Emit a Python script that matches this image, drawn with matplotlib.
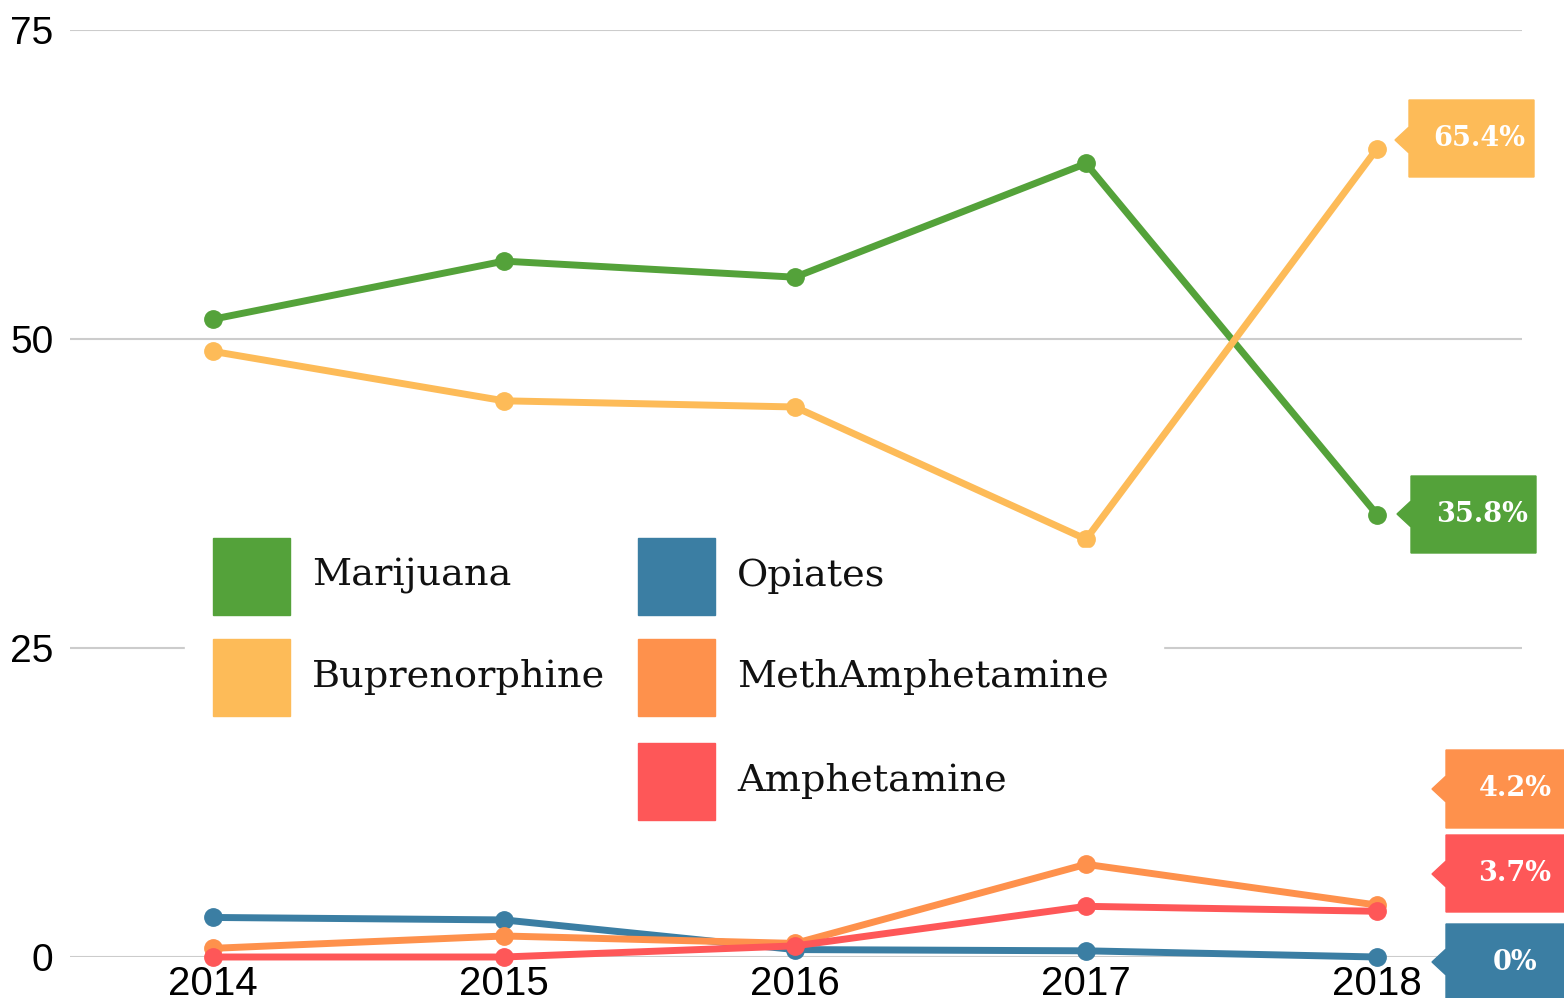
import matplotlib
matplotlib.use("Agg")
import matplotlib.pyplot as plt
from matplotlib.patches import Polygon, Rectangle
from matplotlib import font_manager

years = [2014, 2015, 2016, 2017, 2018]
series_names = ["Marijuana", "Buprenorphine", "Opiates", "MethAmphetamine", "Amphetamine"]
marijuana = [51.6, 56.3, 55.0, 64.2, 35.8]
buprenorphine = [49.0, 45.0, 44.5, 33.8, 65.4]
opiates = [3.2, 3.0, 0.6, 0.5, 0.0]
methamphetamine = [0.7, 1.7, 1.1, 7.5, 4.2]
amphetamine = [0.0, 0.0, 0.9, 4.1, 3.7]
end_labels = ["65.4%", "35.8%", "0%", "4.2%", "3.7%"]
y_ticks = [0, 25, 50, 75]

colors = ["#54a23a", "#fdbb58", "#3b7ea3", "#fe914c", "#fe5758"]
values = [marijuana, buprenorphine, opiates, methamphetamine, amphetamine]

avail = {f.name for f in font_manager.fontManager.ttflist}
tick_font = "Liberation Sans Narrow" if "Liberation Sans Narrow" in avail else "Liberation Sans"
serif_font = "DejaVu Serif"

W, H = 1564, 998
fig = plt.figure(figsize=(W / 100, H / 100), dpi=100)
ax = fig.add_axes([70 / W, (H - 957) / H, (1522 - 70) / W, (957 - 30) / H])
ax.set_xlim(2013.509, 2018.498)
ax.set_ylim(0, 75)
for s in ax.spines.values():
    s.set_visible(False)
ax.set_yticks(y_ticks)
ax.set_yticklabels([str(v) for v in y_ticks])
ax.set_xticks(years)
ax.set_xticklabels([str(y) for y in years])
ax.tick_params(axis="both", length=0, labelsize=28, labelcolor="black")
ax.tick_params(axis="y", pad=12)
ax.tick_params(axis="x", pad=6)
for lab in ax.get_xticklabels():
    lab.set_fontfamily(tick_font)
    lab.set_fontsize(29)
for lab in ax.get_yticklabels():
    lab.set_fontfamily("Liberation Sans")
ax.grid(axis="y", color="#cccccc", lw=1.5, zorder=0)
ax.set_axisbelow(True)

for name, vals, c in zip(series_names, values, colors):
    ax.plot(years, vals, color=c, lw=5, marker="o", ms=12.5, zorder=3, clip_on=False,
            solid_capstyle="round")

def px(x, y):
    return x / W, (H - y) / H

# legend background (white) and entries, in pixel coordinates
lx0, ly0 = px(185, 835)
fig.patches.append(Rectangle((lx0, ly0), (1163 - 185) / W, (835 - 548) / H,
                             transform=fig.transFigure, color="white", zorder=5))
legend_layout = [(213, 538), (213, 639), (638, 538), (638, 639), (638, 743)]
for (x, y), name, c in zip(legend_layout, series_names, colors):
    bx, by = px(x, y + 77)
    fig.patches.append(Rectangle((bx, by), 77 / W, 77 / H, transform=fig.transFigure,
                                 color=c, zorder=6))
    tx, ty = px(x + 99, y + 38)
    fig.text(tx, ty, name, fontsize=27.5, family=serif_font, va="center", ha="left",
             color="#111111", zorder=7)

# end labels with notched boxes (pixel coords: left, top, right, bottom, tip_x, tip_y)
label_boxes = {
    1: (1409, 100, 1534, 177, 1395, 140),
    0: (1411, 476, 1536, 553, 1397, 514),
    3: (1446, 750, 1564, 828, 1432, 789),
    4: (1446, 835, 1564, 912, 1432, 874),
    2: (1446, 924, 1564, 1000, 1432, 962),
}
label_index = {1: 0, 0: 1, 2: 2, 3: 3, 4: 4}
for idx, (l, t, r, b, tx_, ty_) in label_boxes.items():
    c = colors[idx]
    pts = [(l, t), (r, t), (r, b), (l, b), (l, ty_ + 13), (tx_, ty_), (l, ty_ - 13)]
    pts = [(p[0], H - p[1]) for p in pts]
    fig.patches.append(Polygon(pts, closed=True, transform=None, color=c, zorder=8))
    label = end_labels[label_index[idx]]
    cx = (l + 10 + r) / 2 + 3 if r < 1560 else (l + 1564) / 2 + 10
    fig.text(cx / W, (H - (t + b) / 2) / H, label, fontsize=19.5, family=serif_font,
             weight="bold", color="white", ha="center", va="center", zorder=9)

fig.savefig("out.png", dpi=100)
